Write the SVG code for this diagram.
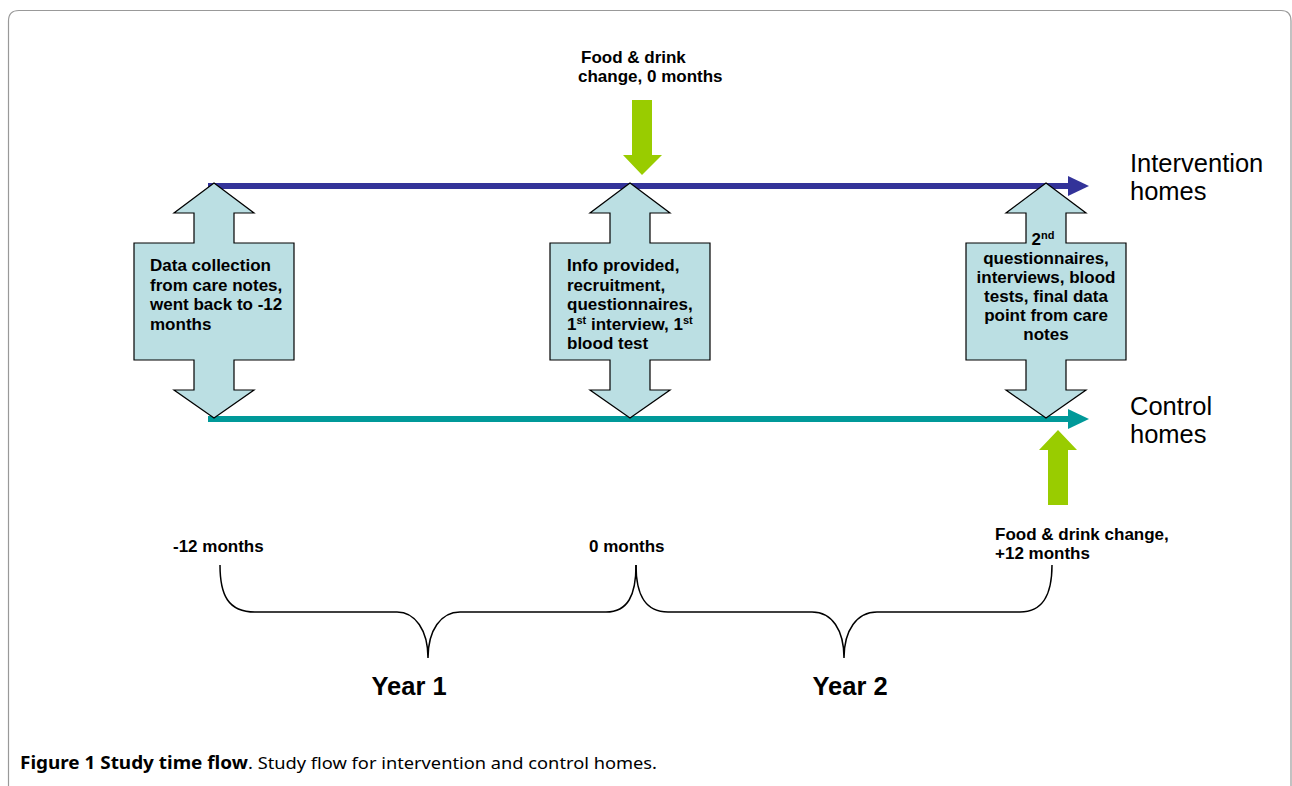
<svg xmlns="http://www.w3.org/2000/svg" width="1292" height="786" viewBox="0 0 1292 786">
<style>
.lbl{font-family:"Liberation Sans",Arial,sans-serif;font-weight:bold;font-size:17px;fill:#000}
.big{font-family:"Liberation Sans",Arial,sans-serif;font-size:25.5px;fill:#000}
.yr{font-family:"Liberation Sans",Arial,sans-serif;font-weight:bold;font-size:25.5px;fill:#000;text-anchor:middle}
.sup{font-size:11px}
.dbl{fill:#BBDFE3;stroke:#000;stroke-width:1.2}
.green{fill:#99CC00}
.brace{fill:none;stroke:#000;stroke-width:1.5}
.cap{font-family:"Noto Sans","Open Sans",sans-serif;font-size:17px;fill:#000}
</style>
<rect width="1292" height="786" fill="#fff"/>
<path d="M8.5,800 V21 Q8.5,10.5 19,10.5 H1281 Q1291,10.5 1291,21 V800" fill="none" stroke="#999" stroke-width="1.2"/>

<g id="connectors">
  <line x1="208" y1="186" x2="1070" y2="186" stroke="#333399" stroke-width="6"/>
  <polygon points="1068,176 1089,186 1068,196" fill="#333399"/>
  <line x1="208" y1="419" x2="1070" y2="419" stroke="#009999" stroke-width="6"/>
  <polygon points="1068,409 1089,419 1068,429" fill="#009999"/>
  <polygon class="green" points="632,100 652,100 652,155 662,155 642,175 623,155 632,155"/>
  <polygon class="green" points="1048,505 1068,505 1068,450 1077,450 1058,430 1039,450 1048,450"/>
  <path class="brace" d="M220,565 C220,595 228,612 255,612 L397,612 C415,612 428,630 428,658 C428,630 441,612 460,612 L606,612 C628,612 636,595 636,565"/>
  <path class="brace" d="M636,565 C636,595 645,612 668,612 L812,612 C832,612 844,630 844,658 C844,630 857,612 877,612 L1020,612 C1043,612 1052,595 1052,565"/>
</g>

<g id="node-data-collection">
  <path class="dbl" d="M214,183 L254,213 L234,213 L234,243 L294,243 L294,360 L234,360 L234,390 L254,390 L214,418 L174,390 L194,390 L194,360 L134,360 L134,243 L194,243 L194,213 L174,213 Z"/>
  <text class="lbl" x="150" y="271">Data collection</text>
  <text class="lbl" x="150" y="290.5">from care notes,</text>
  <text class="lbl" x="150" y="310">went back to -12</text>
  <text class="lbl" x="150" y="329.5">months</text>
</g>

<g id="node-info-provided">
  <path class="dbl" d="M630,183 L670,213 L650,213 L650,243 L710,243 L710,360 L650,360 L650,390 L670,390 L630,418 L590,390 L610,390 L610,360 L550,360 L550,243 L610,243 L610,213 L590,213 Z"/>
  <text class="lbl" x="567" y="271">Info provided,</text>
  <text class="lbl" x="567" y="290.5">recruitment,</text>
  <text class="lbl" x="567" y="310">questionnaires,</text>
  <text class="lbl" x="567" y="329.5">1<tspan class="sup" dy="-6">st</tspan><tspan dy="6"> interview, 1</tspan><tspan class="sup" dy="-6">st</tspan></text>
  <text class="lbl" x="567" y="349">blood test</text>
</g>

<g id="node-second">
  <path class="dbl" d="M1046,183 L1086,213 L1066,213 L1066,243 L1126,243 L1126,360 L1066,360 L1066,390 L1086,390 L1046,418 L1006,390 L1026,390 L1026,360 L966,360 L966,243 L1026,243 L1026,213 L1006,213 Z"/>
  <text class="lbl" x="1043" y="245" text-anchor="middle">2<tspan class="sup" dy="-6">nd</tspan></text>
  <text class="lbl" x="1046" y="264" text-anchor="middle">questionnaires,</text>
  <text class="lbl" x="1046" y="283" text-anchor="middle">interviews, blood</text>
  <text class="lbl" x="1046" y="302" text-anchor="middle">tests, final data</text>
  <text class="lbl" x="1046" y="321" text-anchor="middle">point from care</text>
  <text class="lbl" x="1046" y="340" text-anchor="middle">notes</text>
</g>

<g id="node-intervention-label">
  <text class="big" x="1130" y="172">Intervention</text>
  <text class="big" x="1130" y="200">homes</text>
</g>
<g id="node-control-label">
  <text class="big" x="1130" y="415">Control</text>
  <text class="big" x="1130" y="443">homes</text>
</g>

<g id="node-food-top">
  <text class="lbl" x="581" y="63">Food &amp; drink</text>
  <text class="lbl" x="578" y="82">change, 0 months</text>
</g>
<g id="node-food-bottom">
  <text class="lbl" x="995" y="540">Food &amp; drink change,</text>
  <text class="lbl" x="995" y="559">+12 months</text>
</g>

<g id="node-timepoints">
  <text class="lbl" x="173" y="552">-12 months</text>
  <text class="lbl" x="589" y="552">0 months</text>
</g>

<g id="node-years">
  <text class="yr" x="409" y="695">Year 1</text>
  <text class="yr" x="850" y="695">Year 2</text>
</g>

<g id="caption">
  <text class="cap" x="20" y="769" font-weight="bold" textLength="228" lengthAdjust="spacingAndGlyphs">Figure 1 Study time flow</text>
  <text class="cap" x="248" y="769" textLength="409" lengthAdjust="spacingAndGlyphs">. Study flow for intervention and control homes.</text>
</g>
</svg>
